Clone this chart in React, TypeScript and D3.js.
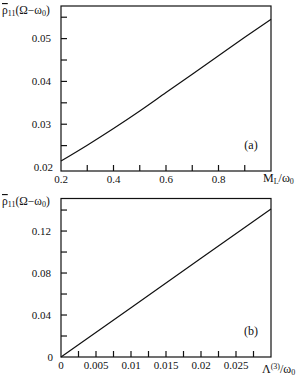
import React from 'react';
import * as d3 from 'd3';

// panel (a): rho vs M_L/omega0
const mlValues = [0.2, 0.3, 0.4, 0.5, 0.6, 0.7, 0.8, 0.9, 1.0];
const rhoA = [0.0214, 0.0251, 0.029, 0.0331, 0.0374, 0.0417, 0.046, 0.0503, 0.0545];
const xTicksA = [0.3, 0.4, 0.5, 0.6, 0.7, 0.8, 0.9];
const xLabelsA = ['0.2', '0.4', '0.6', '0.8'];
const yTicksA = [0.025, 0.03, 0.035, 0.04, 0.045, 0.05, 0.055];
const yLabelsA = ['0.02', '0.03', '0.04', '0.05'];

// panel (b): rho vs Lambda(3)/omega0
const lambdaValues = [0, 0.01, 0.02, 0.03];
const rhoB = [0, 0.047, 0.094, 0.141];
const xTicksB = [0.0025, 0.005, 0.0075, 0.01, 0.0125, 0.015, 0.0175, 0.02, 0.0225, 0.025, 0.0275];
const xLabelsB = ['0', '0.005', '0.01', '0.015', '0.02', '0.025'];
const yTicksB = [0.02, 0.04, 0.06, 0.08, 0.1, 0.12, 0.14];
const yLabelsB = ['0', '0.04', '0.08', '0.12'];

const FONT = 'Liberation Serif, Times New Roman, serif';
const INK = '#111';

const YTitle = ({ y }) => (
  <text x={2} y={y} fontSize={11.5} fill={INK} fontFamily={FONT}>
    <tspan style={{ textDecoration: 'overline' }}>ρ</tspan>
    <tspan fontSize={8} dy={2}>11</tspan>
    <tspan dy={-2}>(Ω−ω</tspan>
    <tspan fontSize={8} dy={2}>0</tspan>
    <tspan dy={-2}>)</tspan>
  </text>
);

const Panel = ({ xs, ys, xDomain, yDomain, top, bottom, xTicks, xLabels, yTicks, yLabels, tag, xTitle, curve }) => {
  const x = d3.scaleLinear().domain(xDomain).range([61, 271]);
  const y = d3.scaleLinear().domain(yDomain).range([bottom, top]);
  const pts = xs.map((v, i) => [v, ys[i]]);
  const line = d3.line().x(d => x(d[0])).y(d => y(d[1])).curve(curve);
  const tick = 6;
  return (
    <g fontFamily={FONT} fill={INK}>
      <rect x={x.range()[0]} y={top} width={x.range()[1] - x.range()[0]} height={bottom - top}
        fill="none" stroke={INK} strokeWidth={1.2} />
      {xTicks.map(t => (
        <line key={'xt' + t} x1={x(t)} x2={x(t)} y1={bottom} y2={bottom - tick} stroke={INK} strokeWidth={1.2} />
      ))}
      {yTicks.map(t => (
        <line key={'yt' + t} x1={x.range()[0]} x2={x.range()[0] + tick} y1={y(t)} y2={y(t)} stroke={INK} strokeWidth={1.2} />
      ))}
      {xLabels.map(l => (
        <text key={'xl' + l} x={x(+l)} y={bottom + 11.5} fontSize={11} textAnchor="middle">{l}</text>
      ))}
      {yLabels.map((l, i) => (
        <text key={'yl' + l} x={i === 0 ? 53 : 51} y={y(+l) + 3.5} fontSize={11} textAnchor="end">{l}</text>
      ))}
      <path d={line(pts)} fill="none" stroke={INK} strokeWidth={1.2} />
      <text x={251} y={bottom - 22} fontSize={12} textAnchor="middle">{tag}</text>
      {xTitle}
    </g>
  );
};

export default function App() {
  return (
    <svg width={301} height={386} style={{ position: 'absolute', left: 0, top: 0, background: '#fff' }}>
      <YTitle y={14} />
      <Panel xs={mlValues} ys={rhoA} xDomain={[0.2, 1.0]} yDomain={[0.01907, 0.05762]} top={6} bottom={171}
        xTicks={xTicksA} xLabels={xLabelsA} yTicks={yTicksA} yLabels={yLabelsA} tag="(a)"
        curve={d3.curveMonotoneX}
        xTitle={
          <text x={263} y={182} fontSize={12}>
            M<tspan fontSize={8} dy={2}>L</tspan><tspan dy={-2}>/ω</tspan><tspan fontSize={8} dy={2}>0</tspan>
          </text>
        } />
      <YTitle y={205} />
      <Panel xs={lambdaValues} ys={rhoB} xDomain={[0, 0.03]} yDomain={[0, 0.151]} top={198.5} bottom={357}
        xTicks={xTicksB} xLabels={xLabelsB} yTicks={yTicksB} yLabels={yLabelsB} tag="(b)"
        curve={d3.curveLinear}
        xTitle={
          <text x={262} y={373} fontSize={12}>
            Λ<tspan fontSize={8} dy={-4}>(3)</tspan><tspan dy={4}>/ω</tspan><tspan fontSize={8} dy={2}>0</tspan>
          </text>
        } />
    </svg>
  );
}
